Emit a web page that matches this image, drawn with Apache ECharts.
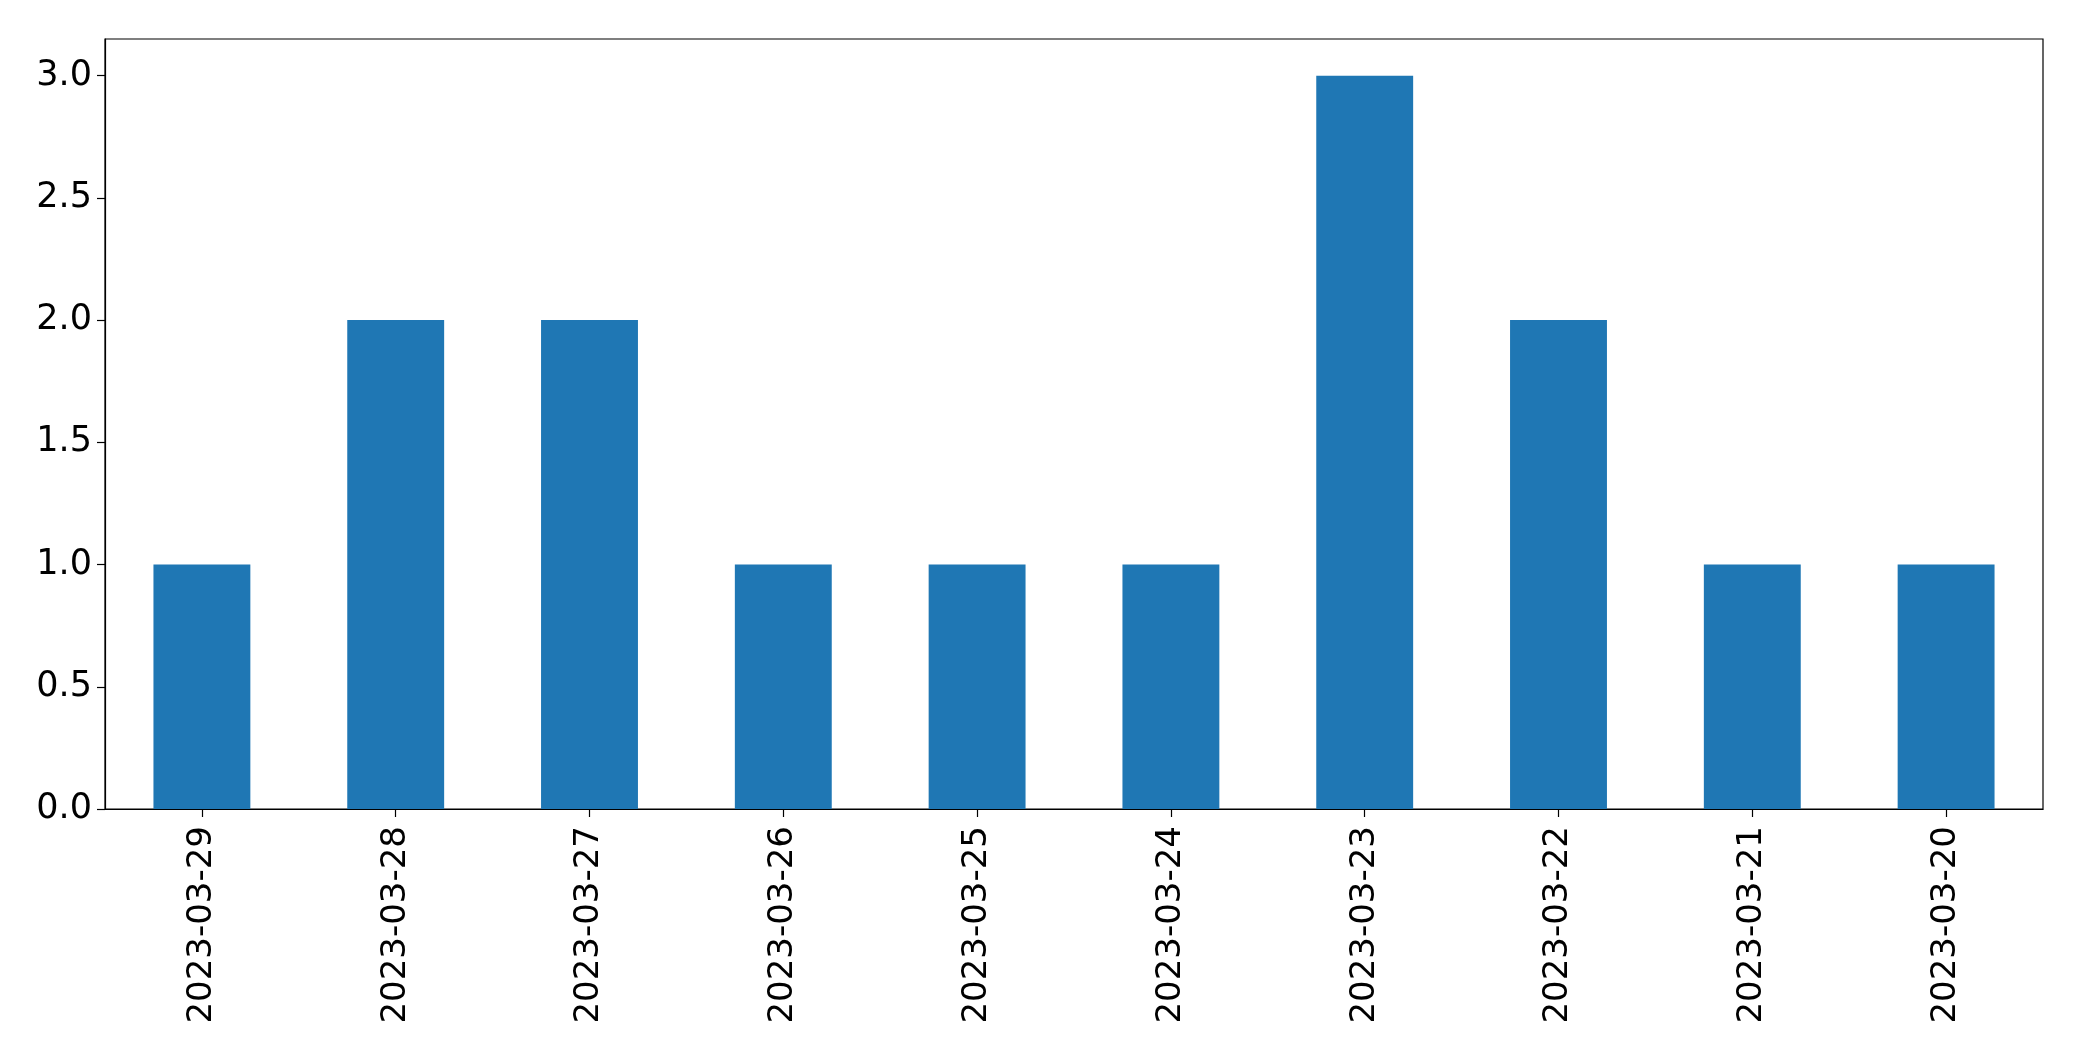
<!DOCTYPE html>
<html>
<head>
<meta charset="utf-8">
<script src="https://cdn.jsdelivr.net/npm/echarts@6/dist/echarts.min.js"></script>
<style>
html,body{margin:0;padding:0;background:#fff;}
#chart{width:2082px;height:1061px;}
</style>
</head>
<body>
<div id="chart"></div>
<script>
const categories = ['2023-03-29','2023-03-28','2023-03-27','2023-03-26','2023-03-25','2023-03-24','2023-03-23','2023-03-22','2023-03-21','2023-03-20'];
const counts = [1, 2, 2, 1, 1, 1, 3, 2, 1, 1];
const yTicks = [0, 0.5, 1.0, 1.5, 2.0, 2.5, 3.0];

const chart = echarts.init(document.getElementById('chart'), null, {renderer: 'canvas'});
const font = 'DejaVu Sans';
chart.setOption({
  animation: false,
  backgroundColor: '#ffffff',
  grid: {left: 105, right: 39, top: 39, bottom: 252, containLabel: false,
    show: true, borderColor: '#000', borderWidth: 1.2, backgroundColor: 'transparent'},
  xAxis: {
    type: 'category',
    data: categories,
    boundaryGap: true,
    axisLine: {show: true, lineStyle: {color: '#000', width: 1.2}},
    axisTick: {show: true, alignWithLabel: true, length: 8, lineStyle: {color: '#000', width: 1.2}},
    axisLabel: {rotate: 90, margin: 17, color: '#000', fontFamily: font, fontSize: 34, interval: 0},
    splitLine: {show: false}
  },
  yAxis: {
    type: 'value',
    min: 0,
    max: 3.15,
    interval: 0.5,
    axisLine: {show: true, lineStyle: {color: '#000', width: 1.2}},
    axisTick: {show: true, length: 8, customValues: yTicks, lineStyle: {color: '#000', width: 1.2}},
    axisLabel: {margin: 13, color: '#000', fontFamily: font, fontSize: 35, customValues: yTicks,
      formatter: v => v.toFixed(1)},
    splitLine: {show: false}
  },
  series: [{
    type: 'bar',
    data: counts,
    barWidth: '50%',
    itemStyle: {color: '#1f77b4'}
  }]
});
</script>
</body>
</html>
